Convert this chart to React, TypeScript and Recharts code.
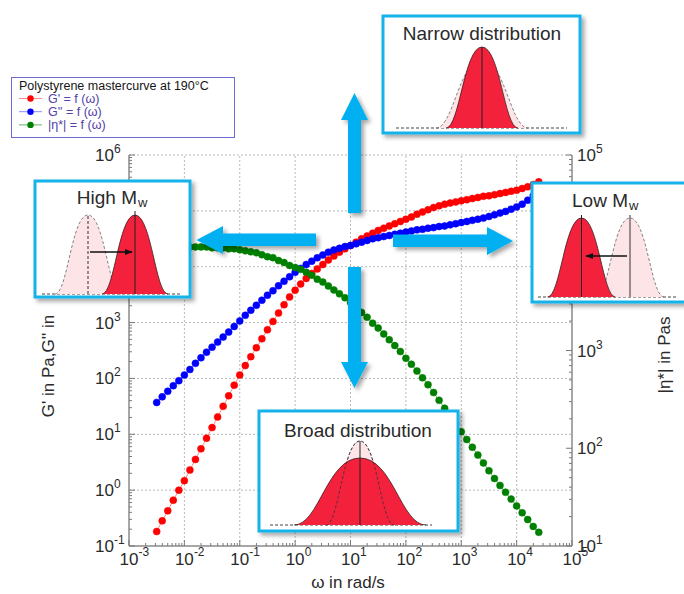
import React from 'react';
import { ComposedChart, Line, XAxis, YAxis, ReferenceLine, Legend } from 'recharts';

const FONT = '"Liberation Sans", Arial, sans-serif';

// log10 of angular frequency ω (rad/s)
const logOmega = [
  -2.5, -2.4, -2.3, -2.2, -2.1, -2.0, -1.9, -1.8, -1.7, -1.6,
  -1.5, -1.4, -1.3, -1.2, -1.1, -1.0, -0.9, -0.8, -0.7, -0.6,
  -0.5, -0.4, -0.3, -0.2, -0.1, 0.0, 0.1, 0.2, 0.3, 0.4,
  0.5, 0.6, 0.7, 0.8, 0.9, 1.0, 1.1, 1.2, 1.3, 1.4,
  1.5, 1.6, 1.7, 1.8, 1.9, 2.0, 2.1, 2.2, 2.3, 2.4,
  2.5, 2.6, 2.7, 2.8, 2.9, 3.0, 3.1, 3.2, 3.3, 3.4,
  3.5, 3.6, 3.7, 3.8, 3.9, 4.0, 4.1, 4.2, 4.3, 4.4,
];
// log10 of G' (Pa)
const logGPrime = [
  -0.74, -0.55, -0.37, -0.18, 0.0, 0.17, 0.36, 0.55, 0.74, 0.93,
  1.12, 1.31, 1.5, 1.69, 1.88, 2.06, 2.23, 2.39, 2.55, 2.71,
  2.87, 3.02, 3.17, 3.32, 3.46, 3.58, 3.69, 3.79, 3.88, 3.96,
  4.04, 4.12, 4.19, 4.26, 4.32, 4.38, 4.44, 4.5, 4.55, 4.6,
  4.65, 4.69, 4.73, 4.77, 4.81, 4.85, 4.89, 4.94, 4.98, 5.02,
  5.06, 5.09, 5.12, 5.14, 5.16, 5.18, 5.2, 5.22, 5.24, 5.26,
  5.27, 5.29, 5.31, 5.33, 5.35, 5.37, 5.4, 5.43, 5.47, 5.52,
];
// log10 of G'' (Pa)
const logGDoublePrime = [
  1.57, 1.67, 1.77, 1.87, 1.96, 2.06, 2.16, 2.27, 2.37, 2.47,
  2.56, 2.65, 2.74, 2.83, 2.93, 3.03, 3.13, 3.22, 3.31, 3.4,
  3.49, 3.57, 3.66, 3.74, 3.82, 3.9, 3.97, 4.04, 4.1, 4.16,
  4.21, 4.26, 4.3, 4.33, 4.36, 4.38, 4.41, 4.44, 4.47, 4.5,
  4.52, 4.54, 4.56, 4.58, 4.6, 4.62, 4.64, 4.66, 4.67, 4.69,
  4.7, 4.72, 4.73, 4.75, 4.77, 4.79, 4.81, 4.83, 4.85, 4.87,
  4.9, 4.93, 4.96, 4.99, 5.03, 5.07, 5.12, 5.19, 5.27, 5.35,
];
// log10 of |η*| (Pa·s)
const logEtaStar = [
  4.07, 4.07, 4.07, 4.07, 4.06, 4.06, 4.06, 4.06, 4.06, 4.06,
  4.05, 4.05, 4.05, 4.04, 4.04, 4.03, 4.02, 4.01, 4.0, 3.98,
  3.96, 3.95, 3.92, 3.9, 3.87, 3.85, 3.83, 3.8, 3.77, 3.73,
  3.7, 3.66, 3.62, 3.58, 3.54, 3.49, 3.44, 3.39, 3.34, 3.28,
  3.23, 3.17, 3.11, 3.05, 2.99, 2.92, 2.86, 2.79, 2.72, 2.65,
  2.57, 2.49, 2.41, 2.33, 2.25, 2.17, 2.09, 2.01, 1.93, 1.85,
  1.77, 1.69, 1.62, 1.55, 1.48, 1.41, 1.34, 1.27, 1.2, 1.14,
];

const xDecades = [-3, -2, -1, 0, 1, 2, 3, 4, 5];
const leftDecades = [-1, 0, 1, 2, 3, 4, 5, 6];
const rightDecades = [1, 2, 3, 4, 5];
// decade labels hidden under the inset boxes in the reference
const coveredLeftLabels = [4, 5];
const coveredRightLabels = [4];

const legendTitle = 'Polystyrene mastercurve at 190°C';
const seriesInfo = [
  { key: 'gp', label: "G' = f (ω)", color: '#ff0000', line: '#ff8a8a', axis: 'left' },
  { key: 'gpp', label: "G'' = f (ω)", color: '#0000ff', line: '#8a8aff', axis: 'left' },
  { key: 'eta', label: '|η*| = f (ω)', color: '#008000', line: '#66b266', axis: 'right' },
];

const data = logOmega.map((lw, i) => ({
  w: Math.pow(10, lw),
  gp: Math.pow(10, logGPrime[i]),
  gpp: Math.pow(10, logGDoublePrime[i]),
  eta: Math.pow(10, logEtaStar[i]),
}));

function buildTicks(decades: number[]) {
  const out: number[] = [];
  decades.forEach((d, i) => {
    out.push(Math.pow(10, d));
    if (i < decades.length - 1) {
      for (let k = 2; k <= 9; k++) out.push(k * Math.pow(10, d));
    }
  });
  return out;
}
const xTicks = buildTicks(xDecades);
const leftTicks = buildTicks(leftDecades);
const rightTicks = buildTicks(rightDecades);

const TICK = '#7a7a7a';
const LABEL = '#2a2a2a';
const AXIS = '#8a8a8a';
const GRID = '#b8b8b8';

const isMajor = (v: number) => {
  const e = Math.log10(v);
  return Math.abs(e - Math.round(e)) < 1e-6;
};
const expNum = (v: number) => Math.round(Math.log10(v));

const XTick = (props: any) => {
  const { x, y, payload } = props;
  const v = payload.value;
  const major = isMajor(v);
  return (
    <g>
      <line x1={x} x2={x} y1={y} y2={y - (major ? 6 : 3)} stroke={TICK} strokeWidth={1} />
      {major && (
        <g fontFamily={FONT} fill={LABEL}>
          <text x={x} y={y + 19} textAnchor="middle" fontSize={17}>10</text>
          <text x={x + 9.5} y={y + 10} textAnchor="start" fontSize={12}>{String(expNum(v))}</text>
        </g>
      )}
    </g>
  );
};

const LeftTick = (props: any) => {
  const { x, y, payload } = props;
  const v = payload.value;
  const major = isMajor(v);
  const show = major && !coveredLeftLabels.includes(expNum(v));
  return (
    <g>
      <line x1={x} x2={x + (major ? 6 : 3)} y1={y} y2={y} stroke={TICK} strokeWidth={1} />
      {show && (
        <g fontFamily={FONT} fill={LABEL}>
          <text x={x - 15} y={y + 6} textAnchor="end" fontSize={17}>10</text>
          <text x={x - 15} y={y - 2} textAnchor="start" fontSize={12}>{String(expNum(v))}</text>
        </g>
      )}
    </g>
  );
};

const RightTick = (props: any) => {
  const { x, y, payload } = props;
  const v = payload.value;
  const major = isMajor(v);
  const show = major && !coveredRightLabels.includes(expNum(v));
  return (
    <g>
      <line x1={x} x2={x - (major ? 6 : 3)} y1={y} y2={y} stroke={TICK} strokeWidth={1} />
      {show && (
        <g fontFamily={FONT} fill={LABEL}>
          <text x={x + 5} y={y + 6} textAnchor="start" fontSize={17}>10</text>
          <text x={x + 24} y={y - 2} textAnchor="start" fontSize={12}>{String(expNum(v))}</text>
        </g>
      )}
    </g>
  );
};

const LegendBox = () => (
  <svg width={225} height={62} style={{ display: 'block' }}>
    <rect x={0.5} y={0.5} width={223} height={60} fill="#fff" stroke="#6b6bd2" strokeWidth={1} />
    <text x={8} y={13} fontSize={12.5} fontFamily={FONT} fill="#161616">{legendTitle}</text>
    {seriesInfo.map((s, i) => {
      const cy = 21.5 + 13.2 * i;
      return (
        <g key={s.key}>
          <line x1={8} x2={31} y1={cy} y2={cy} stroke={s.line} strokeWidth={1} />
          <circle cx={19.5} cy={cy} r={3.2} fill={s.color} />
          <text x={37} y={cy + 4.5} fontSize={12.5} fontFamily={FONT} fill="#5140a8">{s.label}</text>
        </g>
      );
    })}
  </svg>
);

// bell-shaped schematic outline used in the inset illustrations (half base width w, height h)
function bell(cx: number, base: number, h: number, w: number) {
  const top = base - h;
  return `M ${cx - w} ${base} C ${cx - 0.62 * w} ${base} ${cx - 0.5 * w} ${top} ${cx} ${top} C ${cx + 0.5 * w} ${top} ${cx + 0.62 * w} ${base} ${cx + w} ${base}`;
}

const BOX = '#16b3ea';
const ARROW = '#00b0f0';
const RED = '#f4213c';
const PINK = '#fde4e7';
const OUT = '#3a2020';

const Pink = ({ cx, base, h, w }: any) => (
  <path d={bell(cx, base, h, w)} fill={PINK} stroke="#666" strokeWidth={0.8} strokeDasharray="3 2" />
);
const Red = ({ cx, base, h, w }: any) => (
  <path d={bell(cx, base, h, w)} fill={RED} stroke={OUT} strokeWidth={0.8} />
);

const Overlay = () => (
  <svg width={684} height={594} style={{ position: 'absolute', left: 0, top: 0, pointerEvents: 'none' }}>
    <defs>
      <filter id="shadow" x="-20%" y="-20%" width="150%" height="150%">
        <feDropShadow dx="3" dy="3" stdDeviation="2" floodColor="#000" floodOpacity="0.35" />
      </filter>
      <marker id="ah" viewBox="0 0 10 10" refX="9" refY="5" markerWidth="6" markerHeight="6" orient="auto">
        <path d="M0,1 L10,5 L0,9 z" fill="#111" />
      </marker>
    </defs>

    {/* axis titles */}
    <text x={348} y={588} textAnchor="middle" fontSize={17} fontFamily={FONT} fill={LABEL}>ω in rad/s</text>
    <text transform="translate(54,366) rotate(-90)" textAnchor="middle" fontSize={17} fontFamily={FONT} fill={LABEL}>G' in Pa,G'' in</text>
    <text transform="translate(670,355) rotate(-90)" textAnchor="middle" fontSize={17} fontFamily={FONT} fill={LABEL}>|η*| in Pas</text>

    {/* arrows */}
    <g fill={ARROW} filter="url(#shadow)">
      <polygon points="348,213 361,213 361,120 368,120 354.5,93 341,120 348,120" />
      <polygon points="348,267 361,267 361,362 368,362 354.5,388 341,362 348,362" />
      <polygon points="316,233.5 316,246 223,246 223,254 196.5,240 223,226 223,233.5" />
      <polygon points="393,234.5 393,247 487,247 487,255 513,241 487,227 487,234.5" />
    </g>

    {/* Narrow distribution */}
    <rect x={383} y={16} width={197} height={117} fill="#fff" stroke={BOX} strokeWidth={3} filter="url(#shadow)" />
    <text x={482} y={40} textAnchor="middle" fontSize={19} fontFamily={FONT} fill={LABEL}>Narrow distribution</text>
    <line x1={396} x2={567} y1={128} y2={128} stroke="#444" strokeWidth={1} strokeDasharray="3 2" />
    <Pink cx={482} base={128} h={68} w={46} />
    <Red cx={482} base={128} h={81} w={36} />
    <line x1={482} x2={482} y1={128} y2={47} stroke="#222" strokeWidth={1} />

    {/* High Mw */}
    <rect x={35} y={181} width={155} height={116} fill="#fff" stroke={BOX} strokeWidth={3} filter="url(#shadow)" />
    <text x={137} y={204} textAnchor="end" fontSize={19} fontFamily={FONT} fill={LABEL}>High M</text>
    <text x={138} y={207} textAnchor="start" fontSize={13} fontFamily={FONT} fill={LABEL}>w</text>
    <line x1={42} x2={182} y1={294} y2={294} stroke="#444" strokeWidth={1} strokeDasharray="3 2" />
    <Pink cx={88} base={294} h={79} w={33} />
    <line x1={88} x2={88} y1={294} y2={214} stroke="#333" strokeWidth={1} strokeDasharray="3 2" />
    <Red cx={135} base={294} h={79} w={33} />
    <line x1={135} x2={135} y1={294} y2={211} stroke="#222" strokeWidth={1} />
    <line x1={90} x2={132} y1={252} y2={252} stroke="#111" strokeWidth={1.3} markerEnd="url(#ah)" />

    {/* Low Mw */}
    <rect x={532} y={183} width={160} height={119} fill="#fff" stroke={BOX} strokeWidth={3} filter="url(#shadow)" />
    <text x={628} y={207} textAnchor="end" fontSize={19} fontFamily={FONT} fill={LABEL}>Low M</text>
    <text x={629} y={210} textAnchor="start" fontSize={13} fontFamily={FONT} fill={LABEL}>w</text>
    <line x1={538} x2={677} y1={297} y2={297} stroke="#444" strokeWidth={1} strokeDasharray="3 2" />
    <Pink cx={630} base={297} h={79} w={34} />
    <Red cx={581.5} base={297} h={79} w={34} />
    <line x1={581.5} x2={581.5} y1={297} y2={215} stroke="#222" strokeWidth={1} />
    <line x1={630} x2={630} y1={297} y2={215} stroke="#333" strokeWidth={1} />
    <line x1={627} x2={586} y1={256} y2={256} stroke="#111" strokeWidth={1.3} markerEnd="url(#ah)" />

    {/* Broad distribution */}
    <rect x={259} y={411} width={199} height={120} fill="#fff" stroke={BOX} strokeWidth={3} filter="url(#shadow)" />
    <text x={358} y={437} textAnchor="middle" fontSize={19} fontFamily={FONT} fill={LABEL}>Broad distribution</text>
    <line x1={270} x2={432} y1={525} y2={525} stroke="#444" strokeWidth={1} strokeDasharray="3 2" />
    <Pink cx={360} base={525} h={84} w={34} />
    <Red cx={360} base={525} h={67} w={66} />
    <path d={bell(360, 525, 84, 34)} fill="none" stroke="#333" strokeWidth={0.8} strokeDasharray="3 2" />
    <line x1={360} x2={360} y1={525} y2={441} stroke="#222" strokeWidth={1} />
  </svg>
);

export default function App() {
  return (
    <div style={{ position: 'absolute', left: 0, top: 0, width: 684, height: 594, background: '#fff' }}>
      <ComposedChart
        width={684}
        height={594}
        data={data}
        margin={{ top: 155, right: 52, bottom: 18, left: 69 }}
      >
        <XAxis
          type="number"
          dataKey="w"
          scale="log"
          domain={[1e-3, 1e5]}
          ticks={xTicks}
          interval={0}
          allowDataOverflow
          tick={<XTick />}
          tickLine={false}
          tickSize={0}
          tickMargin={0}
          height={30}
          axisLine={{ stroke: AXIS, strokeWidth: 1.5 }}
        />
        <YAxis
          yAxisId="left"
          orientation="left"
          type="number"
          scale="log"
          domain={[1e-1, 1e6]}
          ticks={leftTicks}
          interval={0}
          allowDataOverflow
          tick={<LeftTick />}
          tickLine={false}
          tickSize={0}
          tickMargin={0}
          width={60}
          axisLine={{ stroke: AXIS, strokeWidth: 1.5 }}
        />
        <YAxis
          yAxisId="right"
          orientation="right"
          type="number"
          scale="log"
          domain={[1e1, 1e5]}
          ticks={rightTicks}
          interval={0}
          allowDataOverflow
          tick={<RightTick />}
          tickLine={false}
          tickSize={0}
          tickMargin={0}
          width={60}
          axisLine={{ stroke: AXIS, strokeWidth: 1.5 }}
        />
        {xDecades.slice(1, -1).map((d) => (
          <ReferenceLine key={'vx' + d} yAxisId="left" x={Math.pow(10, d)} stroke={GRID} strokeDasharray="2 2" ifOverflow="extendDomain" />
        ))}
        {leftDecades.slice(1).map((d) => (
          <ReferenceLine key={'hy' + d} yAxisId="left" y={Math.pow(10, d)} stroke={GRID} strokeDasharray="2 2" ifOverflow="extendDomain" />
        ))}
        {seriesInfo.map((s) => (
          <Line
            key={s.key}
            yAxisId={s.axis}
            type="linear"
            dataKey={s.key}
            name={s.label}
            stroke={s.line}
            strokeWidth={1}
            dot={{ r: 3.5, fill: s.color, stroke: s.color, strokeWidth: 0.5 }}
            activeDot={false}
            isAnimationActive={false}
          />
        ))}
        <Legend
          layout="vertical"
          align="center"
          verticalAlign="middle"
          content={() => <LegendBox />}
          wrapperStyle={{ left: 11, top: 77, width: 225, height: 62 }}
        />
      </ComposedChart>
      <Overlay />
    </div>
  );
}
